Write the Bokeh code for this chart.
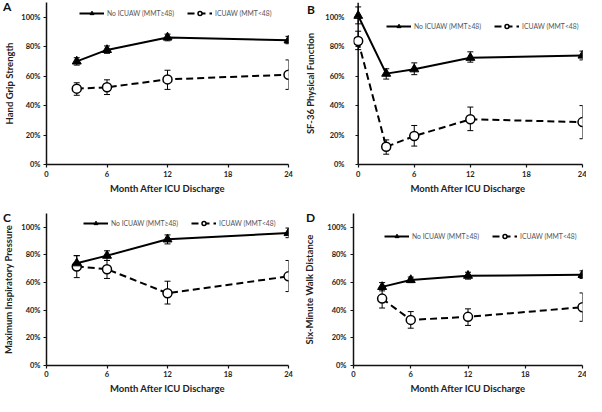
from bokeh.plotting import figure
from bokeh.models import (Range1d, FixedTicker, NumeralTickFormatter, Legend, LegendItem,
                          Whisker, TeeHead, ColumnDataSource, Span, GridBox, Div)
from bokeh.embed import file_html
from bokeh.resources import INLINE

# ---------------- data ----------------
x_ticks = [0, 6, 12, 18, 24]
y_ticks = [0, 0.2, 0.4, 0.6, 0.8, 1.0]
label_no = "No ICUAW (MMT\u226548)"
label_icu = "ICUAW (MMT<48)"
x_title = "Month After ICU Discharge"

months_A = [3, 6, 12, 24]
A_no = [0.700, 0.778, 0.863, 0.843]
A_no_lo = [0.675, 0.755, 0.840, 0.820]
A_no_hi = [0.725, 0.805, 0.885, 0.870]
A_icu = [0.515, 0.524, 0.578, 0.610]
A_icu_lo = [0.470, 0.475, 0.510, 0.510]
A_icu_hi = [0.555, 0.575, 0.640, 0.710]

months_B = [0, 3, 6, 12, 24]
B_no = [1.010, 0.617, 0.647, 0.725, 0.740]
B_no_lo = [0.955, 0.580, 0.610, 0.695, 0.710]
B_no_hi = [1.070, 0.650, 0.690, 0.765, 0.770]
B_icu = [0.838, 0.120, 0.193, 0.307, 0.288]
B_icu_lo = [0.780, 0.070, 0.125, 0.230, 0.175]
B_icu_hi = [0.905, 0.167, 0.265, 0.390, 0.400]

months_C = [3, 6, 12, 24]
C_no = [0.740, 0.795, 0.913, 0.959]
C_no_lo = [0.690, 0.760, 0.880, 0.925]
C_no_hi = [0.795, 0.830, 0.945, 0.995]
C_icu = [0.717, 0.697, 0.523, 0.645]
C_icu_lo = [0.636, 0.630, 0.445, 0.535]
C_icu_hi = [0.795, 0.760, 0.610, 0.760]

months_D = [3, 6, 12, 24]
D_no = [0.569, 0.619, 0.650, 0.656]
D_no_lo = [0.540, 0.600, 0.625, 0.630]
D_no_hi = [0.600, 0.640, 0.675, 0.685]
D_icu = [0.484, 0.330, 0.352, 0.422]
D_icu_lo = [0.416, 0.270, 0.290, 0.320]
D_icu_hi = [0.550, 0.390, 0.410, 0.525]

FONT = "Lato"


def panel(ytitle, months, no, no_lo, no_hi, icu, icu_lo, icu_hi,
          width, height, x_start, left, right, top, bottom,
          leg_loc, tick_standoff, title_standoff, xtick_standoff, xtitle_standoff,
          span_axis=False):
    p = figure(width=width, height=height, x_range=Range1d(x_start, 24), y_range=Range1d(0, 1.1),
               min_border_left=left, min_border_right=right, min_border_top=top,
               min_border_bottom=bottom, output_backend="svg", toolbar_location=None)
    p.grid.visible = False
    p.outline_line_color = None
    p.background_fill_color = "white"
    p.border_fill_color = "white"

    for ax in (p.xaxis[0], p.yaxis[0]):
        ax.axis_line_color = "#111111"
        ax.axis_line_width = 1.5
        ax.major_tick_line_color = "#111111"
        ax.major_tick_line_width = 1.2
        ax.major_tick_out = 3
        ax.major_tick_in = 0
        ax.minor_tick_line_color = None
        ax.major_label_text_font = FONT
        ax.major_label_text_font_style = "bold"
        ax.major_label_text_font_size = "7.5px"
        ax.major_label_text_color = "#222222"
        ax.axis_label_text_font = FONT
        ax.axis_label_text_font_style = "bold"
        ax.axis_label_text_font_size = "9.5px"
        ax.axis_label_text_color = "#222222"

    p.xaxis.ticker = FixedTicker(ticks=x_ticks)
    p.xaxis.bounds = (0, 24)
    p.xaxis.axis_label = x_title
    p.xaxis.major_label_standoff = xtick_standoff
    p.xaxis.axis_label_standoff = xtitle_standoff
    p.yaxis.ticker = FixedTicker(ticks=y_ticks)
    p.yaxis.formatter = NumeralTickFormatter(format="0%")
    p.yaxis.axis_label = ytitle
    p.yaxis.major_label_standoff = tick_standoff
    p.yaxis.axis_label_standoff = title_standoff
    if span_axis:
        # y-axis line drawn at x = 0 (the frame starts a little left of it)
        p.yaxis.axis_line_color = None
        p.yaxis.major_tick_in = 5
        p.yaxis.major_tick_out = -2
        p.add_layout(Span(location=0, dimension="height", line_color="#111111",
                          line_width=1.5, level="underlay"))

    src_no = ColumnDataSource(dict(x=months, y=no, lo=no_lo, hi=no_hi))
    src_icu = ColumnDataSource(dict(x=months, y=icu, lo=icu_lo, hi=icu_hi))

    for src in (src_no, src_icu):
        w = Whisker(source=src, base="x", upper="hi", lower="lo", line_color="black", line_width=1,
                    upper_head=TeeHead(size=6, line_color="black", line_width=1),
                    lower_head=TeeHead(size=6, line_color="black", line_width=1),
                    level="underlay")
        p.add_layout(w)

    l2 = p.line("x", "y", source=src_icu, line_color="black", line_width=2, line_dash="7 4")
    s2 = p.scatter("x", "y", source=src_icu, marker="circle", size=9, fill_color="white",
                   line_color="black", line_width=1.5)
    l1 = p.line("x", "y", source=src_no, line_color="black", line_width=2)
    s1 = p.scatter("x", "y", source=src_no, marker="triangle", size=9, fill_color="black",
                   line_color="black", line_width=1)

    leg = Legend(items=[LegendItem(label=label_no, renderers=[l1, s1]),
                        LegendItem(label=label_icu, renderers=[l2, s2])],
                 orientation="horizontal", location=leg_loc,
                 border_line_color=None, background_fill_alpha=0, padding=0, margin=0,
                 spacing=13, glyph_width=25, glyph_height=10, label_height=10,
                 label_text_font=FONT, label_text_font_size="6.8px", label_text_color="#555555",
                 label_standoff=3)
    p.add_layout(leg)
    return p


def letter_div(letter, top, left):
    return Div(text=letter, width=14, height=16, margin=(top, 0, 0, left), align="start",
               styles={"font-family": FONT, "font-weight": "bold", "font-size": "12px",
                       "color": "#111111", "line-height": "13px",
                       "position": "relative", "z-index": "10"})


pa = panel("Hand Grip Strength", months_A, A_no, A_no_lo, A_no_hi, A_icu, A_icu_lo, A_icu_hi,
           296, 196, 0, 45, 8, 2, 31, (33, 146), 3, 3, 3, 3)
pb = panel("SF-36 Physical Function", months_B, B_no, B_no_lo, B_no_hi, B_icu, B_icu_lo, B_icu_hi,
           290, 196, -0.5, 51, 4, 0, 31, (33, 133), 9, 6, 3, 3, span_axis=True)
pc = panel("Maximum Inspiratory Pressure", months_C, C_no, C_no_lo, C_no_hi, C_icu, C_icu_lo, C_icu_hi,
           296, 200, 0, 45, 6, 17, 30, (37, 137), 3, 4, 2, 3)
pd = panel("Six-Minute Walk Distance", months_D, D_no, D_no_lo, D_no_hi, D_icu, D_icu_lo, D_icu_hi,
           290, 200, 0, 57, 4, 17, 30, (31, 124), 4, 9, 2, 3)

grid = GridBox(children=[(pa, 0, 0), (pb, 0, 1), (pc, 1, 0), (pd, 1, 1),
                         (letter_div("A", 0, 3), 0, 0), (letter_div("B", 3, 11), 0, 1),
                         (letter_div("C", 15, 3), 1, 0), (letter_div("D", 15, 10), 1, 1)],
               spacing=0)
open("out.html", "w").write(file_html(grid, INLINE))
